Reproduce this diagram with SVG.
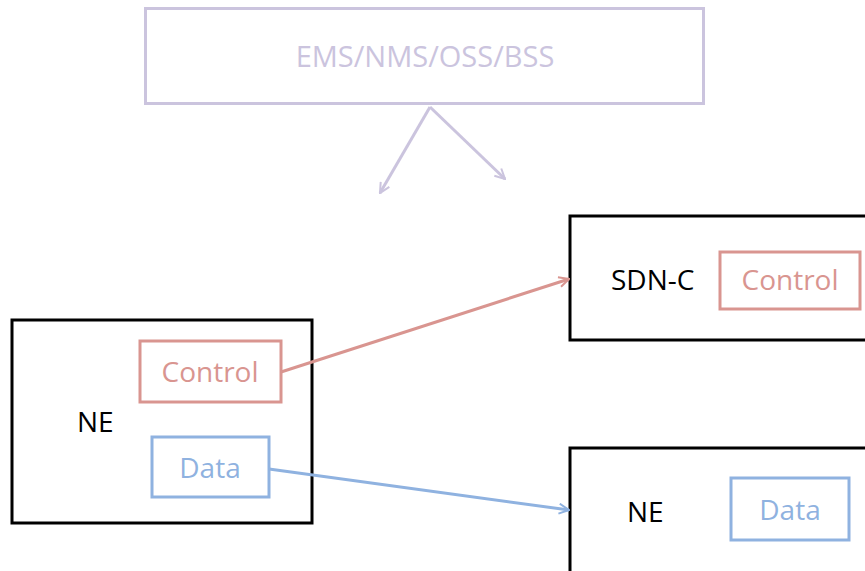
<svg xmlns="http://www.w3.org/2000/svg" width="865" height="571" viewBox="0 0 865 571">
<style>
text{font-family:"Open Sans","Noto Sans",sans-serif;font-size:28px;}
.blk{fill:#fff;stroke:#000;stroke-width:3;}
.red{fill:none;stroke:#d99590;stroke-width:3;}
.blu{fill:none;stroke:#8fb2e0;stroke-width:3;}
.lav{fill:none;stroke:#cbc4de;stroke-width:3;}
</style>
<defs>
<marker id="aL" viewBox="0 0 12 12" refX="11" refY="6" markerWidth="12" markerHeight="12" markerUnits="userSpaceOnUse" orient="auto"><path d="M1,1 L11,6 L1,11" fill="none" stroke="#cbc4de" stroke-width="2"/></marker>
<marker id="aR" viewBox="0 0 12 12" refX="11" refY="6" markerWidth="12" markerHeight="12" markerUnits="userSpaceOnUse" orient="auto"><path d="M1,1 L11,6 L1,11" fill="none" stroke="#d99590" stroke-width="2"/></marker>
<marker id="aB" viewBox="0 0 12 12" refX="11" refY="6" markerWidth="12" markerHeight="12" markerUnits="userSpaceOnUse" orient="auto"><path d="M1,1 L11,6 L1,11" fill="none" stroke="#8fb2e0" stroke-width="2"/></marker>
</defs>
<rect width="865" height="571" fill="#fff"/>
<g id="mgmt">
<rect x="145.5" y="8.5" width="558" height="95" class="lav" fill="#fff"/>
<text x="425" y="67" text-anchor="middle" fill="#cbc4de" style="font-size:29px">EMS/NMS/OSS/BSS</text>
</g>
<g id="sdnc">
<rect x="570" y="216" width="300" height="124" class="blk"/>
<text x="611" y="290" fill="#000">SDN-C</text>
<rect x="720" y="252" width="140" height="57" class="red"/>
<text x="790" y="290" text-anchor="middle" fill="#d99590">Control</text>
</g>
<g id="ne1">
<rect x="12" y="320" width="300" height="203" class="blk"/>
<text x="77" y="432" fill="#000">NE</text>
<rect x="140" y="341" width="141" height="61" class="red"/>
<text x="210" y="382" text-anchor="middle" fill="#d99590">Control</text>
<rect x="152" y="437" width="117" height="60" class="blu"/>
<text x="210" y="478" text-anchor="middle" fill="#8fb2e0">Data</text>
</g>
<g id="ne2">
<rect x="570" y="448" width="300" height="130" class="blk"/>
<text x="627" y="522" fill="#000">NE</text>
<rect x="731" y="478" width="118" height="62" class="blu"/>
<text x="790" y="520" text-anchor="middle" fill="#8fb2e0">Data</text>
</g>
<g id="connectors">
<line x1="430" y1="107" x2="380" y2="193" class="lav" stroke-width="2.5" marker-end="url(#aL)"/>
<line x1="430" y1="107" x2="505" y2="179" class="lav" stroke-width="2.5" marker-end="url(#aL)"/>
<line x1="281" y1="372" x2="569" y2="279" class="red" stroke-width="2.5" marker-end="url(#aR)"/>
<line x1="269" y1="469" x2="569" y2="510" class="blu" stroke-width="2.5" marker-end="url(#aB)"/>
</g>
</svg>
